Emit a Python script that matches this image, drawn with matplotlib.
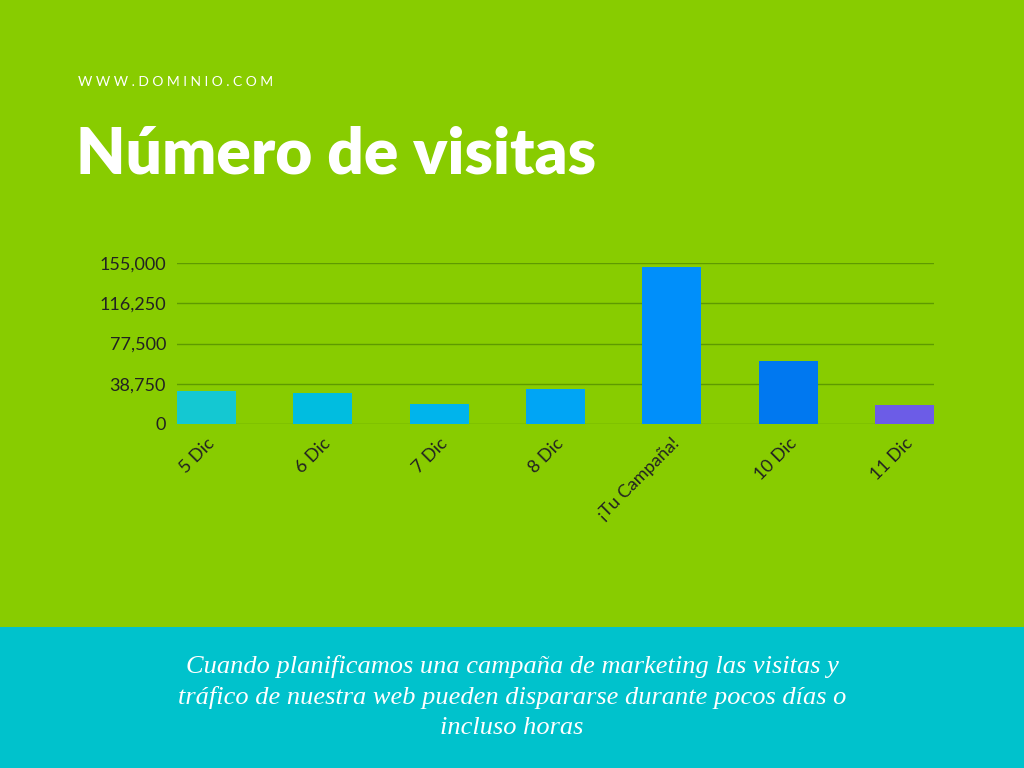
import matplotlib
matplotlib.use("Agg")
import matplotlib.pyplot as plt
from matplotlib.patches import Rectangle

categories = ["5 Dic", "6 Dic", "7 Dic", "8 Dic", "¡Tu Campaña!", "10 Dic", "11 Dic"]
visits = [31800, 29800, 19300, 33700, 151000, 60600, 18300]
bar_colors = ["#14C8D2", "#00BDE0", "#00B4EC", "#00A5F5", "#008FFA", "#0078F0", "#6C5CE7"]
yticks = [0, 38750, 77500, 116250, 155000]

fig = plt.figure(figsize=(10.24, 7.68), dpi=100)
fig.patch.set_facecolor("#88CC00")
fig.patches.append(Rectangle((0, 0), 1, 1 - 627 / 768, transform=fig.transFigure,
                             facecolor="#00C2CC", edgecolor="none", zorder=0))

fig.text(78 / 1024, 1 - 82 / 768, "W W W . D O M I N I O . C O M", color="white",
         fontsize=10, family="Lato", va="center")
fig.text(76 / 1024, 1 - 155 / 768, "Número de visitas", color="white",
         fontsize=46, family="Lato", weight="heavy", va="center")
fig.text(0.5, 1 - 697 / 768,
         "Cuando planificamos una campaña de marketing las visitas y\n"
         "tráfico de nuestra web pueden dispararse durante pocos días o\n"
         "incluso horas",
         color="white", fontsize=19, family="Liberation Serif", style="italic",
         ha="center", va="center", linespacing=1.45)

ax = fig.add_axes([177 / 1024, 1 - 424 / 768, (934 - 177) / 1024, (424 - 263) / 768])
ax.set_facecolor("none")
x = range(len(categories))
ax.bar(x, visits, width=0.506, color=bar_colors, zorder=3)
ax.set_xlim(-0.253, len(categories) - 1 + 0.253)
ax.set_ylim(0, 155000)
ax.set_yticks(yticks)
ax.set_yticklabels([f"{v:,}" for v in yticks], fontsize=13, family="Lato")
ax.grid(axis="y", color="#5E9A00", linewidth=1, zorder=0)
ax.set_xticks(list(x))
ax.set_xticklabels(categories, rotation=45, ha="right", rotation_mode="anchor",
                   fontsize=13, family="Lato")
ax.tick_params(length=0, pad=8, colors="#222222")
for s in ax.spines.values():
    s.set_visible(False)

fig.savefig("out.png", dpi=100, facecolor=fig.get_facecolor())
